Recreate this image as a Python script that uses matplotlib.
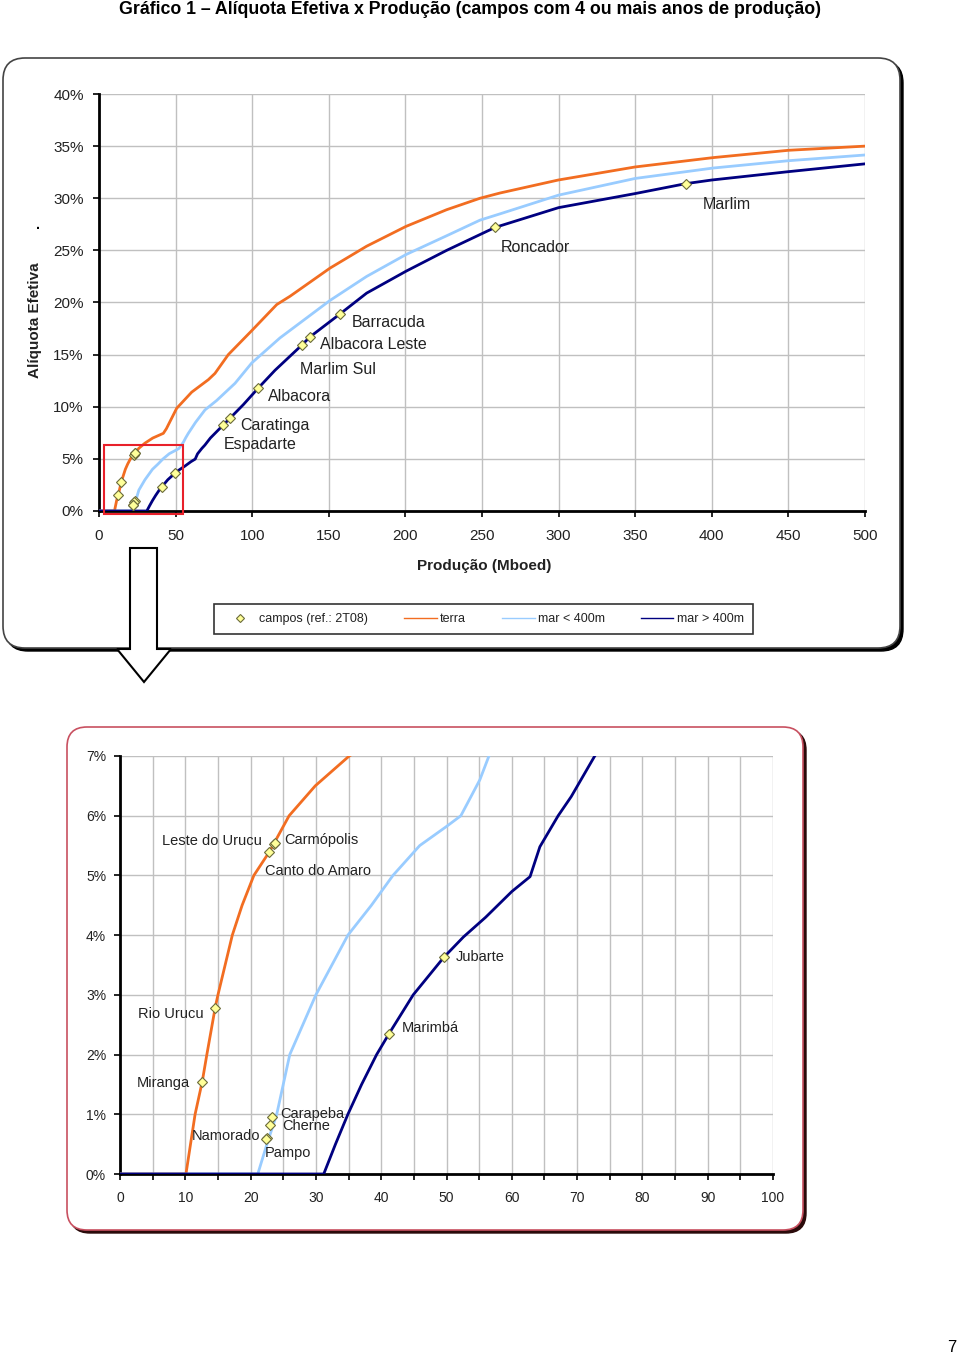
"""
Gráfico 1 - alíquota efetiva x produção, com zoom na região de baixa produção
"""

import matplotlib
matplotlib.use("Agg")
import matplotlib.pyplot as plt
from matplotlib.patches import FancyBboxPatch, Polygon, Rectangle
from matplotlib.ticker import MultipleLocator, FuncFormatter
from matplotlib.lines import Line2D

plt.rcParams['font.family'] = ['Liberation Sans', 'DejaVu Sans']

# curvas: produção (Mboed) x alíquota efetiva (%)
terra_x = [0, 10.1, 11.5, 12.6, 13.3, 14.6, 15.0, 17.2, 18.7, 20.5, 22.9, 25.9, 29.9, 35.1,
           42.0, 44.0, 50.7, 60.5, 71.4, 75.7, 84.4, 99.7, 116.0, 124.7, 150.8, 174.7,
           200.4, 226.9, 248.7, 261.7, 299.8, 349.9, 401.0, 450.0, 500.0]
terra_y = [0, 0, 1.0, 1.55, 2.0, 2.8, 3.0, 4.0, 4.5, 5.0, 5.4, 6.0, 6.5, 7.0,
           7.45, 7.9, 9.85, 11.4, 12.6, 13.2, 15.0, 17.3, 19.8, 20.6, 23.3, 25.4,
           27.3, 28.9, 30.0, 30.5, 31.75, 33.0, 33.9, 34.6, 35.0]

mar_raso_x = [0, 21.1, 22.5, 24.0, 26.0, 30.0, 34.9, 38.5, 41.8, 45.9, 50.0, 52.2, 55.1,
              56.5, 58.3, 63.0, 69.2, 76.8, 88.8, 99.7, 118.1, 150.8, 174.7, 200.4,
              226.9, 248.7, 261.7, 300.0, 350.0, 401.0, 450.0, 500.0]
mar_raso_y = [0, 0, 0.5, 1.0, 2.0, 3.0, 4.0, 4.5, 5.0, 5.5, 5.82, 6.0, 6.6,
              7.0, 7.45, 8.5, 9.7, 10.6, 12.25, 14.2, 16.6, 20.2, 22.5, 24.6,
              26.4, 27.9, 28.5, 30.3, 31.9, 32.9, 33.6, 34.15]

mar_fundo_x = [0, 31.2, 33.0, 34.9, 37.0, 39.3, 41.2, 44.9, 49.6, 52.6, 56.0, 60.0, 62.8,
               64.3, 67.1, 69.1, 72.7, 81.1, 85.5, 94.2, 104.0, 114.9, 132.3, 137.7,
               157.3, 174.7, 200.4, 226.9, 258.5, 300.0, 350.0, 383.0, 400.0, 450.0, 500.0]
mar_fundo_y = [0, 0, 0.5, 1.0, 1.5, 2.0, 2.35, 3.0, 3.63, 3.97, 4.3, 4.73, 4.98,
               5.48, 6.0, 6.32, 7.0, 8.25, 8.9, 10.2, 11.8, 13.5, 15.9, 16.7,
               18.9, 20.9, 23.0, 25.0, 27.2, 29.1, 30.45, 31.4, 31.75, 32.55, 33.3]

# campos (ref.: 2T08)
campos_nome = ["Miranga", "Rio Urucu", "Canto do Amaro", "Leste do Urucu", "Carmópolis",
               "Carapeba", "Cherne", "Namorado", "Pampo", "Marimbá", "Jubarte",
               "Espadarte", "Caratinga", "Albacora", "Marlim Sul", "Albacora Leste",
               "Barracuda", "Roncador", "Marlim"]
campos_x = [12.6, 14.6, 22.8, 23.6, 23.7, 23.3, 23.0, 22.5, 22.4, 41.2, 49.6,
            81.1, 85.5, 104.0, 132.3, 137.7, 157.3, 258.5, 383.0]
campos_y = [1.54, 2.78, 5.39, 5.53, 5.55, 0.96, 0.82, 0.60, 0.58, 2.35, 3.63,
            8.25, 8.9, 11.8, 15.9, 16.7, 18.9, 27.2, 31.4]

# rótulos de cada gráfico: (dx, dy, alinhamento) em pixels
rotulos_geral = {"Barracuda": (12, -9, "left"), "Albacora Leste": (10, -8, "left"),
                 "Marlim Sul": (-2, -24, "left"), "Albacora": (10, -9, "left"),
                 "Caratinga": (10, -7, "left"), "Espadarte": (1, -20, "left"),
                 "Roncador": (6, -20, "left"), "Marlim": (17, -21, "left")}
rotulos_zoom = {"Leste do Urucu": (-12, 3, "right"), "Carmópolis": (9, 3, "left"),
                "Canto do Amaro": (-4, -19, "left"), "Rio Urucu": (-12, -6, "right"),
                "Miranga": (-12, -1, "right"), "Carapeba": (8, 3, "left"),
                "Cherne": (12, -1, "left"), "Namorado": (-7, 2, "right"),
                "Pampo": (-2, -14, "left"), "Marimbá": (13, 6, "left"),
                "Jubarte": (12, 0, "left")}

cor_terra = "#f26d21"
cor_raso = "#99ccff"
cor_fundo = "#000080"
cor_texto = "#222222"

W, H = 960, 1357
fig = plt.figure(figsize=(W / 100, H / 100), dpi=100)

# camada de fundo em pixels (caixas, seta, título)
bg = fig.add_axes([0, 0, 1, 1], zorder=0)
bg.set_xlim(0, W)
bg.set_ylim(H, 0)
bg.axis("off")

# caixa de cima
bg.add_patch(FancyBboxPatch((6, 61), 897, 590, boxstyle="round,pad=0,rounding_size=22",
                            facecolor="black", edgecolor="black", zorder=1))
bg.add_patch(FancyBboxPatch((3, 58), 897, 590, boxstyle="round,pad=0,rounding_size=22",
                            facecolor="white", edgecolor="#444444", lw=1.2, zorder=2))
# caixa de baixo
bg.add_patch(FancyBboxPatch((70, 730), 736, 503, boxstyle="round,pad=0,rounding_size=20",
                            facecolor="#2a0a0a", edgecolor="#2a0a0a", zorder=1))
bg.add_patch(FancyBboxPatch((67, 727), 736, 503, boxstyle="round,pad=0,rounding_size=20",
                            facecolor="white", edgecolor="#c85060", lw=1.2, zorder=2))

# seta para baixo
seta = [(130, 548), (157, 548), (157, 649), (171, 649), (144, 682), (117, 649), (130, 649)]
bg.add_patch(Polygon(seta, closed=True, facecolor="white", edgecolor="black", lw=1.5, zorder=4))

bg.text(470, 1, "Gráfico 1 – Alíquota Efetiva x Produção (campos com 4 ou mais anos de produção)",
        ha="center", va="top", fontsize=12.8, fontweight="bold", color="black")
bg.text(38, 225, ".", ha="center", va="center", fontsize=10, fontweight="bold")
bg.text(952, 1347, "7", ha="center", va="center", fontsize=12, color="black")


def estilo(ax, fs):
    for s in ["top", "right"]:
        ax.spines[s].set_visible(False)
    for s in ["left", "bottom"]:
        ax.spines[s].set_linewidth(2)
        ax.spines[s].set_color("black")
    ax.grid(True, which="both", color="#c0c0c0", lw=1)
    ax.set_axisbelow(True)
    ax.tick_params(which="both", direction="out", length=4, width=1.2, colors="black",
                   labelsize=fs, labelcolor=cor_texto)
    ax.yaxis.set_major_formatter(FuncFormatter(lambda v, p: f"{v:.0f}%"))
    ax.set_facecolor("white")


def desenha(ax, rotulos, fs_rot):
    ax.plot(terra_x, terra_y, color=cor_terra, lw=2, zorder=3)
    ax.plot(mar_raso_x, mar_raso_y, color=cor_raso, lw=2, zorder=3)
    ax.plot(mar_fundo_x, mar_fundo_y, color=cor_fundo, lw=2, zorder=3)
    ax.plot(campos_x, campos_y, ls="none", marker="D", ms=5.5, mfc="#ffff99",
            mec="#6b6b3a", mew=0.8, zorder=4)
    for nome, x, y in zip(campos_nome, campos_x, campos_y):
        if nome in rotulos:
            dx, dy, ha = rotulos[nome]
            ax.annotate(nome, xy=(x, y), xytext=(dx, dy), textcoords="offset pixels",
                        ha=ha, va="center", fontsize=fs_rot, color=cor_texto, zorder=5)


# gráfico geral
ax1 = fig.add_axes([99 / W, 1 - 511 / H, (865 - 99) / W, (511 - 94) / H], zorder=2)
estilo(ax1, 11)
desenha(ax1, rotulos_geral, 11.5)
ax1.set_xlim(0, 500)
ax1.set_ylim(0, 40)
ax1.xaxis.set_major_locator(MultipleLocator(50))
ax1.yaxis.set_major_locator(MultipleLocator(5))
ax1.tick_params(axis="y", pad=7)
ax1.tick_params(axis="x", pad=9)
ax1.set_xlabel("Produção (Mboed)", fontsize=11, fontweight="bold", color=cor_texto)
ax1.xaxis.set_label_coords(0.5026, -0.115)
ax1.set_ylabel("Alíquota Efetiva", fontsize=11, fontweight="bold", color=cor_texto)
ax1.yaxis.set_label_coords(-0.0744, 0.458)
ax1.add_patch(Rectangle((3.3, -0.3), 51.5, 6.65, fill=False, edgecolor="#e8202a",
                        lw=1.5, clip_on=False, zorder=6))

# legenda
handles = [Line2D([], [], ls="none", marker="D", ms=4, mfc="#ffff99", mec="#6b6b3a",
                  mew=0.8, label="campos (ref.: 2T08)"),
           Line2D([], [], color=cor_terra, lw=1, label="terra"),
           Line2D([], [], color=cor_raso, lw=1, label="mar < 400m"),
           Line2D([], [], color=cor_fundo, lw=1, label="mar > 400m")]
leg = fig.legend(handles=handles, loc="center",
                 bbox_to_anchor=(483.5 / W, 1 - 619 / H), ncol=4, frameon=True,
                 fancybox=False, edgecolor="black", fontsize=9, handlelength=2.6,
                 handletextpad=0.25, columnspacing=2.9, borderpad=0.75,
                 borderaxespad=0, labelcolor=cor_texto)
leg.get_frame().set_linewidth(1.2)

# gráfico ampliado
ax2 = fig.add_axes([120 / W, 1 - 1174 / H, (773 - 120) / W, (1174 - 756) / H], zorder=2)
estilo(ax2, 10)
desenha(ax2, rotulos_zoom, 10.5)
ax2.set_xlim(0, 100)
ax2.set_ylim(0, 7)
ax2.xaxis.set_major_locator(MultipleLocator(10))
ax2.xaxis.set_minor_locator(MultipleLocator(5))
ax2.yaxis.set_major_locator(MultipleLocator(1))
ax2.tick_params(axis="y", pad=6)
ax2.tick_params(axis="x", pad=8)

fig.savefig("out.png", dpi=100)
